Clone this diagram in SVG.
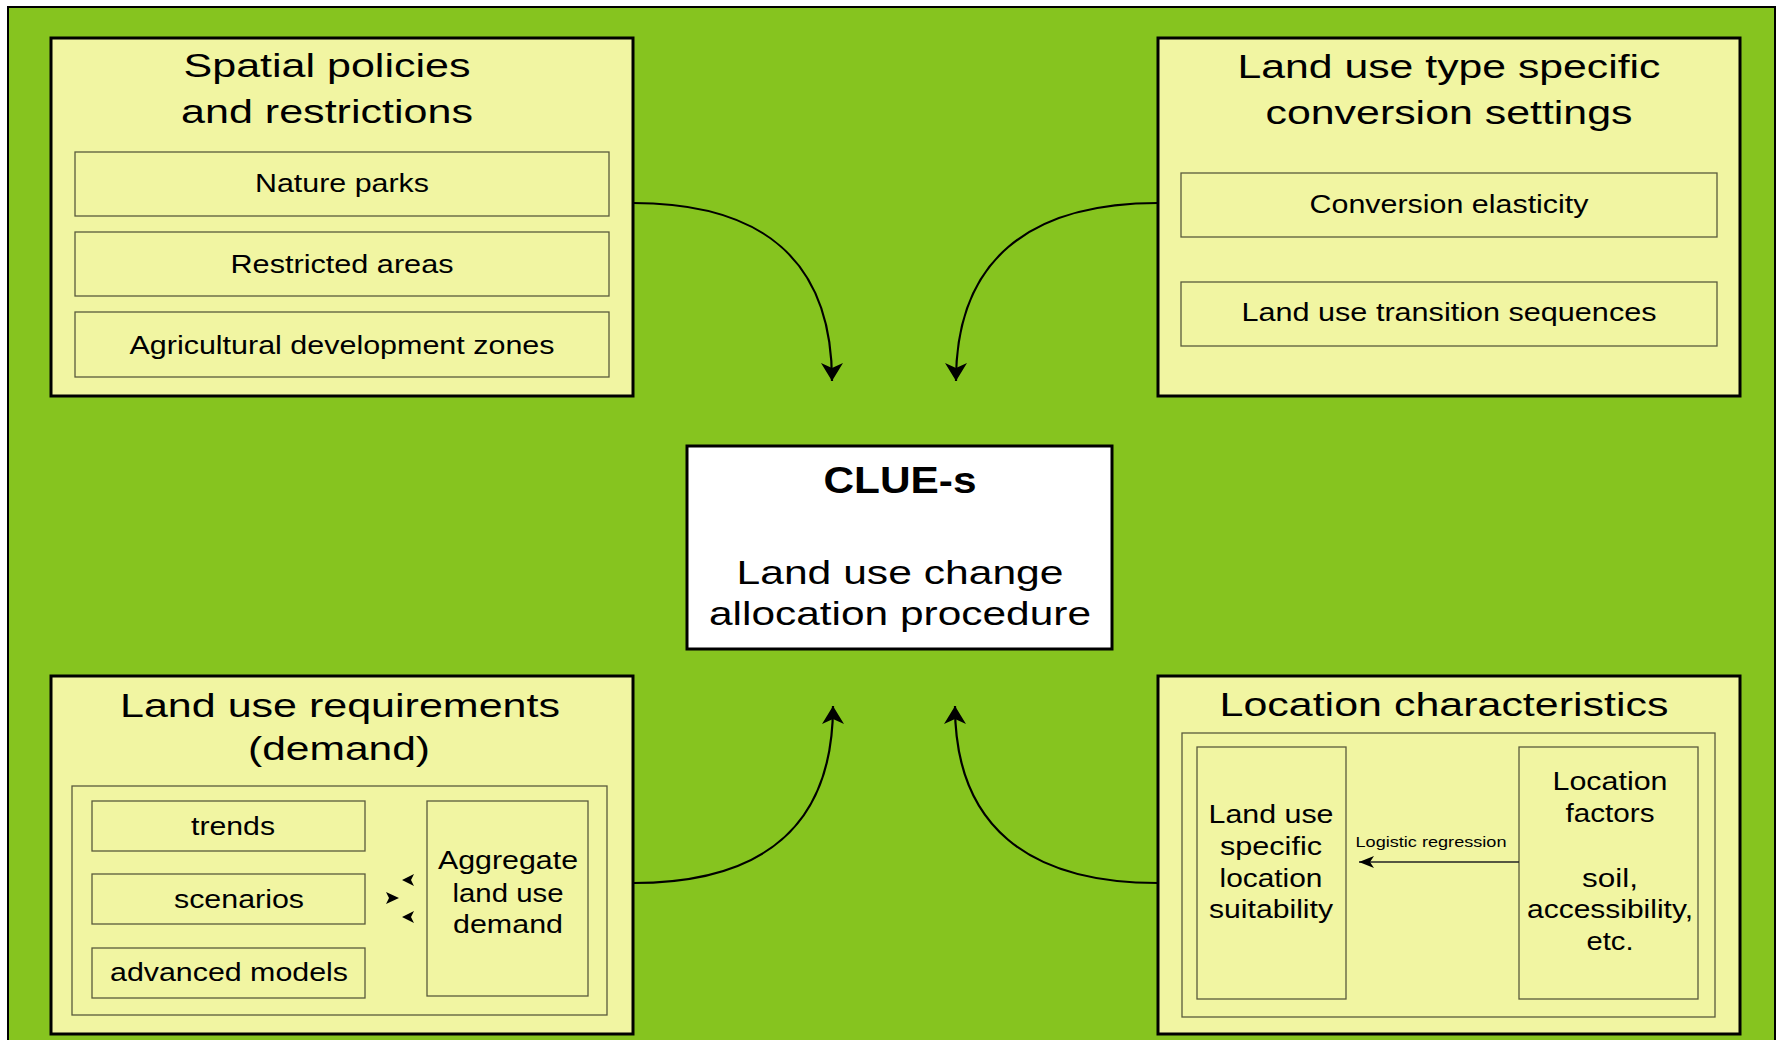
<svg xmlns="http://www.w3.org/2000/svg" width="1785" height="1040" viewBox="0 0 1785 1040">
<style>
text{font-family:"Liberation Sans",Arial,Helvetica,sans-serif;fill:#000;text-anchor:middle}
.panel{fill:#F1F5A2;stroke:#000;stroke-width:3}
.sub{fill:#F1F5A2;stroke:#5a5a3c;stroke-width:1.3}
.title{font-size:34px}
.lbl{font-size:26px}
.conn{fill:none;stroke:#000;stroke-width:2.2}
</style>
<defs>
<marker id="ah" markerUnits="userSpaceOnUse" markerWidth="20" markerHeight="22" viewBox="0 0 20 22" refX="18" refY="11" orient="auto">
<path d="M0,0 L18,11 L0,22 L5,11 Z" fill="#000"/>
</marker>
<marker id="ahs" markerUnits="userSpaceOnUse" markerWidth="16" markerHeight="12" viewBox="0 0 16 12" refX="15" refY="6" orient="auto">
<path d="M0,0 L15,6 L0,12 L4,6 Z" fill="#000"/>
</marker>
</defs>
<rect x="0" y="0" width="1785" height="1040" fill="#fff"/>
<rect x="8" y="7" width="1767" height="1045" fill="#86C41F" stroke="#000" stroke-width="2"/>

<g id="spatial-policies">
<rect class="panel" x="51" y="38" width="582" height="358"/>
<text class="title" x="327" y="77" textLength="287" lengthAdjust="spacingAndGlyphs">Spatial policies</text>
<text class="title" x="327" y="123" textLength="292" lengthAdjust="spacingAndGlyphs">and restrictions</text>
<rect class="sub" x="75" y="152" width="534" height="64"/>
<text class="lbl" x="342" y="192" textLength="174" lengthAdjust="spacingAndGlyphs">Nature parks</text>
<rect class="sub" x="75" y="232" width="534" height="64"/>
<text class="lbl" x="342" y="273" textLength="223" lengthAdjust="spacingAndGlyphs">Restricted areas</text>
<rect class="sub" x="75" y="312" width="534" height="65"/>
<text class="lbl" x="342" y="354" textLength="425" lengthAdjust="spacingAndGlyphs">Agricultural development zones</text>
</g>

<g id="conversion-settings">
<rect class="panel" x="1158" y="38" width="582" height="358"/>
<text class="title" x="1449" y="78" textLength="423" lengthAdjust="spacingAndGlyphs">Land use type specific</text>
<text class="title" x="1449" y="124" textLength="367" lengthAdjust="spacingAndGlyphs">conversion settings</text>
<rect class="sub" x="1181" y="173" width="536" height="64"/>
<text class="lbl" x="1449" y="213" textLength="279" lengthAdjust="spacingAndGlyphs">Conversion elasticity</text>
<rect class="sub" x="1181" y="282" width="536" height="64"/>
<text class="lbl" x="1449" y="321" textLength="415" lengthAdjust="spacingAndGlyphs">Land use transition sequences</text>
</g>

<g id="clue-s">
<rect x="687" y="446" width="425" height="203" fill="#fff" stroke="#000" stroke-width="3"/>
<text x="900" y="493" font-size="36" font-weight="bold" textLength="153" lengthAdjust="spacingAndGlyphs">CLUE-s</text>
<text x="900" y="584" font-size="34" textLength="327" lengthAdjust="spacingAndGlyphs">Land use change</text>
<text x="900" y="625" font-size="34" textLength="382" lengthAdjust="spacingAndGlyphs">allocation procedure</text>
</g>

<g id="land-use-requirements">
<rect class="panel" x="51" y="676" width="582" height="358"/>
<text class="title" x="340" y="717" textLength="440" lengthAdjust="spacingAndGlyphs">Land use requirements</text>
<text class="title" x="339" y="760" textLength="182" lengthAdjust="spacingAndGlyphs">(demand)</text>
<rect class="sub" x="72" y="786" width="535" height="229"/>
<rect class="sub" x="92" y="801" width="273" height="50"/>
<text class="lbl" x="233" y="835" textLength="84" lengthAdjust="spacingAndGlyphs">trends</text>
<rect class="sub" x="92" y="874" width="273" height="50"/>
<text class="lbl" x="239" y="908" textLength="130" lengthAdjust="spacingAndGlyphs">scenarios</text>
<rect class="sub" x="92" y="948" width="273" height="50"/>
<text class="lbl" x="229" y="981" textLength="238" lengthAdjust="spacingAndGlyphs">advanced models</text>
<rect class="sub" x="427" y="801" width="161" height="195"/>
<text class="lbl" x="508" y="869" textLength="140" lengthAdjust="spacingAndGlyphs">Aggregate</text>
<text class="lbl" x="508" y="902" textLength="111" lengthAdjust="spacingAndGlyphs">land use</text>
<text class="lbl" x="508" y="933" textLength="110" lengthAdjust="spacingAndGlyphs">demand</text>
</g>

<g id="location-characteristics">
<rect class="panel" x="1158" y="676" width="582" height="358"/>
<text class="title" x="1444" y="716" textLength="449" lengthAdjust="spacingAndGlyphs">Location characteristics</text>
<rect class="sub" x="1182" y="733" width="533" height="284"/>
<rect class="sub" x="1197" y="747" width="149" height="252"/>
<text class="lbl" x="1271" y="823" textLength="125" lengthAdjust="spacingAndGlyphs">Land use</text>
<text class="lbl" x="1271" y="855" textLength="102" lengthAdjust="spacingAndGlyphs">specific</text>
<text class="lbl" x="1271" y="887" textLength="103" lengthAdjust="spacingAndGlyphs">location</text>
<text class="lbl" x="1271" y="918" textLength="124" lengthAdjust="spacingAndGlyphs">suitability</text>
<rect class="sub" x="1519" y="747" width="179" height="252"/>
<text class="lbl" x="1610" y="790" textLength="115" lengthAdjust="spacingAndGlyphs">Location</text>
<text class="lbl" x="1610" y="822" textLength="89" lengthAdjust="spacingAndGlyphs">factors</text>
<text class="lbl" x="1610" y="887" textLength="56" lengthAdjust="spacingAndGlyphs">soil,</text>
<text class="lbl" x="1610" y="918" textLength="166" lengthAdjust="spacingAndGlyphs">accessibility,</text>
<text class="lbl" x="1610" y="950" textLength="47" lengthAdjust="spacingAndGlyphs">etc.</text>
<text x="1431" y="847" font-size="15" textLength="151" lengthAdjust="spacingAndGlyphs">Logistic regression</text>
</g>

<g id="connectors">
<path class="conn" d="M633,203 C763,203 832,261 832,381" marker-end="url(#ah)"/>
<path class="conn" d="M1158,203 C1028,203 956,261 956,381" marker-end="url(#ah)"/>
<path class="conn" d="M633,883 C763,883 833,826 833,706" marker-end="url(#ah)"/>
<path class="conn" d="M1158,883 C1028,883 955,826 955,706" marker-end="url(#ah)"/>
<path d="M1519,862 L1359,862" fill="none" stroke="#222" stroke-width="1.6" marker-end="url(#ahs)"/>
<path d="M402,880 L414,874 L411,880 L414,886 Z" fill="#000"/>
<path d="M399,898 L386,892 L389,898 L386,904 Z" fill="#000"/>
<path d="M402,917 L414,911 L411,917 L414,923 Z" fill="#000"/>
</g>
</svg>
